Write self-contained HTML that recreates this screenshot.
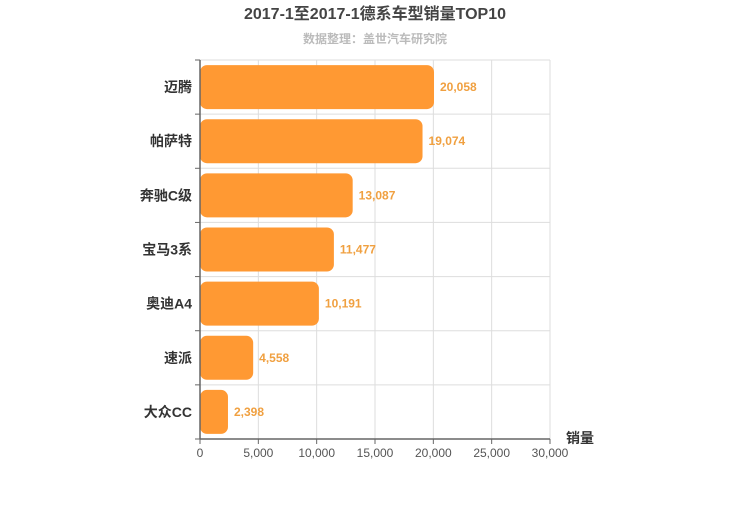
<!DOCTYPE html>
<html><head><meta charset="utf-8"><style>
body{margin:0;background:#fff;}
svg{font-family:"Liberation Sans","Noto Sans CJK SC",sans-serif;}
</style></head><body>
<svg width="750" height="500" id="c">
<text x="375" y="19" text-anchor="middle" font-size="16" font-weight="bold" fill="#444">2017-1至2017-1德系车型销量TOP10</text>
<text x="375" y="43" text-anchor="middle" font-size="12" font-weight="bold" fill="#bbb">数据整理：盖世汽车研究院</text>
<g id="grid"></g><g id="bars"></g><g id="axes"></g>
<text x="566" y="443" font-size="14" font-weight="bold" fill="#333">销量</text>
</svg>
<script>
const categories=["迈腾","帕萨特","奔驰C级","宝马3系","奥迪A4","速派","大众CC"];
const values=[20058,19074,13087,11477,10191,4558,2398];
const ticks=[0,5000,10000,15000,20000,25000,30000];
const ns="http://www.w3.org/2000/svg";
const X0=200,X1=550,Y0=60,Y1=439,MAX=30000;
const band=(Y1-Y0)/categories.length;
const x=v=>X0+v/MAX*(X1-X0);
function mk(t,a,p){const e=document.createElementNS(ns,t);for(const k in a)e.setAttribute(k,a[k]);p.appendChild(e);return e;}
const g=document.getElementById('grid'),b=document.getElementById('bars'),ax=document.getElementById('axes');
ticks.forEach(t=>{
 const l=mk('line',{x1:x(t),x2:x(t),y1:Y0,y2:Y1,stroke:'#ddd'},g);
 
 
 const tk=mk('line',{x1:x(t),x2:x(t),y1:Y1,y2:Y1+5,stroke:'#666'},ax);
 
 
 const tx=mk('text',{x:x(t),y:Y1+18,'text-anchor':'middle','font-size':12,fill:'#555'},ax);
 tx.textContent=t.toLocaleString('en-US');
 
 
});
for(let i=0;i<=categories.length;i++){
 const y=Y0+i*band;
 const l=mk('line',{x1:X0,x2:X1,y1:y,y2:y,stroke:'#ddd'},g);
 
 
 const tk=mk('line',{x1:X0-5,x2:X0,y1:y,y2:y,stroke:'#666'},ax);
 
 
}
categories.forEach((c,i)=>{
 const yc=Y0+(i+0.5)*band;
 const w=x(values[i])-X0;
 const r=mk('rect',{x:X0,y:yc-22,width:w,height:44,rx:7,fill:'#ff9933'},b);
 
 
 const v=mk('text',{x:x(values[i])+6,y:yc+4,'font-size':12,'font-weight':'bold',fill:'#f0a040'},b);
 v.textContent=values[i].toLocaleString('en-US');
 
 
 const t=mk('text',{x:X0-8,y:yc+5,'text-anchor':'end','font-size':14,'font-weight':'bold',fill:'#333'},ax);
 t.textContent=c;
 
 
});
const la=mk('line',{x1:X0,x2:X0,y1:Y0,y2:Y1,stroke:'#666',"stroke-width":1.5},ax);


const lb=mk('line',{x1:X0,x2:X1,y1:Y1,y2:Y1,stroke:'#666',"stroke-width":1.5},ax);


</script>
</body></html>
